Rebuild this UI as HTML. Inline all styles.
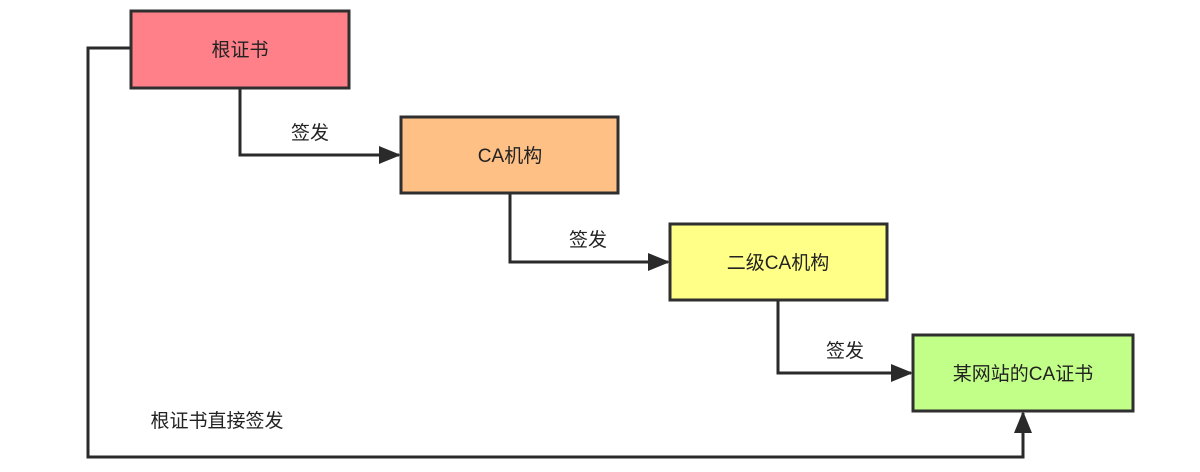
<!DOCTYPE html>
<html><head><meta charset="utf-8"><style>
html,body{margin:0;padding:0;background:#fff;}
svg{display:block}
text{font-family:"Liberation Sans","Noto Sans CJK SC",sans-serif;font-size:19px;fill:#222;}
</style></head><body>
<svg width="1200" height="472" viewBox="0 0 1200 472">
<defs><marker id="b" markerWidth="22" markerHeight="18" refX="20" refY="9" orient="auto" markerUnits="userSpaceOnUse"><path d="M0,0 L22,9 L0,18 z" fill="#2a2a2a"/></marker></defs>
<g fill="none" stroke="#2a2a2a" stroke-width="3">
<path d="M131,48 H88 V457 H1023 V413" marker-end="url(#b)"/>
<path d="M240,88 V155 H399" marker-end="url(#b)"/>
<path d="M510,193 V262 H668" marker-end="url(#b)"/>
<path d="M778,300 V373 H911" marker-end="url(#b)"/>
</g>
<g stroke="#2f2f2f" stroke-width="3">
<rect x="131" y="11" width="218" height="77" fill="#FF8088"/>
<rect x="401" y="117" width="217" height="76" fill="#FFC085"/>
<rect x="670" y="224" width="217" height="76" fill="#FFFF88"/>
<rect x="913" y="335" width="220" height="76" fill="#C2FF88"/>
</g>
<g text-anchor="middle">
<text x="240" y="56">根证书</text>
<text x="510" y="162">CA机构</text>
<text x="778" y="269">二级CA机构</text>
<text x="1023" y="380">某网站的CA证书</text>
<text x="310" y="139">签发</text>
<text x="588" y="246">签发</text>
<text x="845" y="357">签发</text>
<text x="217" y="427">根证书直接签发</text>
</g>
</svg>
</body></html>
